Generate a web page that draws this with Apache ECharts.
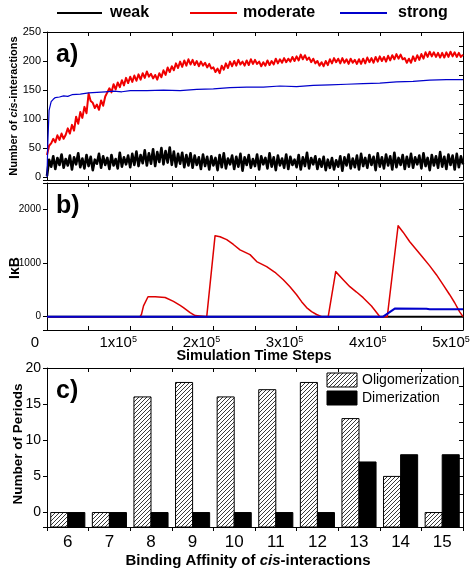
<!DOCTYPE html>
<html><head><meta charset="utf-8">
<script src="https://cdn.jsdelivr.net/npm/echarts@6/dist/echarts.min.js"></script>
<style>html,body{margin:0;padding:0;background:#fff}#c{width:475px;height:570px}</style>
</head><body><div id="c"></div>
<script>
const FONT = '"Liberation Sans", Arial, sans-serif';

// Panel a: number of cis-interactions, sampled every 2500 simulation steps
const timeStep = 2500;
const weak = [
 2,30,18,36,14,33,21,39,16,31,
 20,37,13,34,22,41,17,32,15,38,
 19,35,12,30,23,40,16,36,21,33,
 14,38,20,31,15,42,18,34,22,37,
 17,40,21,44,19,38,24,46,20,41,
 23,48,19,43,26,50,22,45,25,51,
 21,44,18,40,23,42,17,38,20,41,
 16,37,21,34,14,39,19,35,13,36,
 20,33,12,38,17,41,15,32,22,37,
 14,35,18,40,11,34,21,38,16,31,
 19,39,13,36,22,33,15,41,18,34,
 12,37,20,32,16,39,14,35,21,30,
 17,38,13,34,19,42,15,33,22,36,
 14,31,18,35,12,30,16,33,13,29,
 18,36,11,34,20,39,15,32,17,37,
 13,40,19,33,16,38,21,35,12,41,
 18,34,15,39,20,36,13,42,17,33,
 21,38,14,35,18,40,16,34,22,37,
 15,41,19,33,12,38,20,36,16,43,
 18,35,14,39,21,37,13,40,17,36,22
];
const moderate = [
 38,54,58,66,60,72,64,75,66,73,
 84,75,90,80,104,92,112,102,121,110,
 144,131,128,119,125,116,132,123,139,146,
 153,146,160,151,163,155,167,158,171,162,
 173,164,175,166,177,168,179,171,182,173,
 178,170,176,168,179,172,184,176,189,181,
 191,184,196,188,199,190,201,192,203,194,
 202,193,200,191,199,192,197,189,195,187,
 189,181,187,179,192,185,196,188,199,191,
 200,192,202,194,199,192,201,193,203,195,
 202,195,199,191,198,192,201,193,200,194,
 204,196,203,197,205,198,204,199,207,200,
 208,201,211,203,210,202,206,198,204,196,
 200,192,198,191,200,193,203,196,205,198,
 204,196,205,197,203,195,204,197,202,195,
 203,195,204,196,206,198,205,197,207,199,
 208,200,207,199,209,201,210,203,212,204,
 211,203,205,197,204,197,208,200,210,202,
 212,204,215,207,216,208,215,207,214,206,
 214,206,215,207,216,208,215,207,214,207,211
];
const strong = [
 [0,0],[1000,60],[2500,115],[5000,130],[7500,134],[10000,137],[15000,138],[20000,140],
 [25000,139],[30000,142],[40000,143],[50000,145],[60000,146],[70000,147],[80000,148],
 [90000,147],[100000,149],[120000,149],[140000,150],[160000,149],[180000,151],[200000,152],
 [220000,154],[240000,155],[260000,155],[280000,157],[300000,156],[320000,158],[340000,159],
 [360000,160],[380000,161],[400000,162],[420000,164],[440000,165],[460000,167],[480000,168],[500000,168]
];

// Panel b: IkB
const ikbWeak = [[0,0],[500000,0]];
const ikbModerate = [
 [0,0],[111800,0],[113500,40],[116000,200],[121400,372],[130000,370],[142000,358],[152000,285],
 [160000,210],[164000,168],[172000,75],[178000,20],[180000,0],
 [192000,0],[202000,1515],[208000,1495],[216000,1440],[224000,1350],[232000,1250],[244000,1160],
 [252000,1030],[264000,935],[274000,830],[284000,690],[292000,560],[300000,410],[306000,280],
 [312000,170],[318000,95],[324000,40],[330000,0],
 [338000,0],[347000,842],[356000,690],[364000,560],[372000,460],[380000,355],[390000,200],[398000,40],[400000,0],
 [409000,0],[422000,1700],[428000,1580],[436000,1400],[444000,1250],[452000,1100],[460000,950],
 [468000,785],[476000,600],[484000,410],[490000,260],[496000,90],[500000,0]
];
const ikbStrong = [[0,0],[404000,0],[418000,150],[456000,148],[460000,138],[500000,138]];

// Panel c
const affinity = ['6','7','8','9','10','11','12','13','14','15'];
const oligomerization = [0,0,16,18,16,17,18,13,5,0];
const dimerization = [0,0,0,0,0,0,0,7,8,8];

function hatchCanvas(){
  const c = document.createElement('canvas'); c.width = 4; c.height = 4;
  const g = c.getContext('2d');
  g.fillStyle = '#fff'; g.fillRect(0,0,4,4);
  g.strokeStyle = '#3a3a3a'; g.lineWidth = 1;
  g.beginPath();
  g.moveTo(0,4); g.lineTo(4,0);
  g.moveTo(-1,1); g.lineTo(1,-1);
  g.moveTo(3,5); g.lineTo(5,3);
  g.stroke();
  return c;
}
const HATCH = {image: hatchCanvas(), repeat: 'repeat'};

const AX = {lineStyle:{color:'#000', width:1}};
function valX(grid, pos, labels){
  const o = {type:'value', gridIndex:grid, position:pos, min:0, max:500000, interval:50000,
    axisLine:{show:true, onZero:false, ...AX}, splitLine:{show:false},
    axisTick:{show:true, inside:true, length:4, ...AX}, axisLabel:{show:false}};
  if (labels) {
    o.axisLabel = {show:true, margin:5, padding:[0,24,0,0],
      formatter: v => v === 0 ? '{n|0}' : (v % 100000 === 0 ? '{n|' + (v/100000) + 'x10}{s|5}' : ''),
      rich:{ n:{fontSize:15, fontFamily:FONT, color:'#000'},
             s:{fontSize:9, fontFamily:FONT, color:'#000', verticalAlign:'top', padding:[0,0,7,0]} }};
  }
  return o;
}
function valY(grid, pos, min, max, step, labelStep, fs, inside){
  const o = {type:'value', gridIndex:grid, position:pos, min:min, max:max, minInterval:step, maxInterval:step,
    axisLine:{show:true, onZero:false, ...AX}, splitLine:{show:false},
    axisTick:{show:true, inside:inside, length:4, ...AX}, axisLabel:{show:false}};
  if (labelStep) {
    o.axisLabel = {show:true, margin:6, fontSize:fs, fontFamily:FONT, color:'#000',
      formatter: v => (Math.abs(v % labelStep) < 1e-9 ? String(v) : '')};
  }
  return o;
}
function catX(grid, pos, labels){
  return {type:'category', gridIndex:grid, position:pos, data:affinity, boundaryGap:true,
    axisLine:{show:true, onZero:false, ...AX}, splitLine:{show:false},
    axisTick:{show:true, inside:!labels, length:4, ...AX},
    axisLabel:{show:!!labels, margin:7, fontSize:17, fontFamily:FONT, color:'#000'}};
}

function barRender(values, side, fill){
  return function(params, api){
    const idx = api.value(0), val = api.value(1);
    const band = api.size([1,0])[0];
    const w = band * 0.41;
    const top = api.coord([idx, val]);
    const base = api.coord([idx, -2]);
    const x = side < 0 ? top[0] - w : top[0];
    return {type:'rect', shape:{x:x, y:top[1], width:w, height:base[1]-top[1]},
      style:{fill:fill, stroke:'#000', lineWidth:1}};
  };
}

const chart = echarts.init(document.getElementById('c'), null, {renderer:'canvas'});
const line = (name, data, color, w, xi, yi) => ({name, type:'line', data, xAxisIndex:xi, yAxisIndex:yi,
  showSymbol:false, symbol:'none', sampling:null, animation:false,
  lineStyle:{color, width:w, join:'round'}, itemStyle:{color}});

chart.setOption({
  animation:false,
  backgroundColor:'#fff',
  grid:[
    {left:47, right:12, top:32, height:148, outerBoundsMode:'none'},
    {left:47, right:12, top:183, height:147, outerBoundsMode:'none'},
    {left:47, right:12, top:368, height:159, outerBoundsMode:'none'}
  ],
  xAxis:[
    valX(0,'bottom',false), valX(0,'top',false),
    valX(1,'bottom',true), valX(1,'top',false),
    catX(2,'bottom',true), catX(2,'top',false)
  ],
  yAxis:[
    valY(0,'left',-5,250,50,50,11,false), valY(0,'right',-5,250,25,null,0,true),
    valY(1,'left',-250,2500,1000,1000,10,false), valY(1,'right',-250,2500,500,null,0,true),
    valY(2,'left',-2,20,5,5,14,false), valY(2,'right',-2,20,2.5,null,0,true)
  ],
  series:[
    line('weak', weak.map((v,i)=>[i*timeStep, v]), '#000', 2.6, 0, 0),
    line('moderate', moderate.map((v,i)=>[i*timeStep, v]), '#f00000', 2, 0, 0),
    line('strong', strong, '#0000cc', 1.2, 0, 0),
    line('weak', ikbWeak, '#000', 2, 2, 2),
    line('moderate', ikbModerate, '#dd0000', 1.5, 2, 2),
    line('strong', ikbStrong, '#0000cc', 2, 2, 2),
    {name:'Oligomerization', type:'custom', xAxisIndex:4, yAxisIndex:4,
      data: oligomerization.map((v,i)=>[i,v]), renderItem: barRender(oligomerization,-1,HATCH)},
    {name:'Dimerization', type:'custom', xAxisIndex:4, yAxisIndex:4,
      data: dimerization.map((v,i)=>[i,v]), renderItem: barRender(dimerization,1,'#000')}
  ],
  graphic:[
    {type:'line', shape:{x1:57,y1:13,x2:102,y2:13}, style:{stroke:'#000', lineWidth:2}},
    {type:'text', x:110, y:13, style:{text:'weak', font:'bold 16px '+FONT, fill:'#000', verticalAlign:'middle'}},
    {type:'line', shape:{x1:190,y1:13,x2:237,y2:13}, style:{stroke:'#ee0000', lineWidth:2}},
    {type:'text', x:243, y:13, style:{text:'moderate', font:'bold 16px '+FONT, fill:'#000', verticalAlign:'middle'}},
    {type:'line', shape:{x1:340,y1:13,x2:387,y2:13}, style:{stroke:'#0000cc', lineWidth:2}},
    {type:'text', x:398, y:13, style:{text:'strong', font:'bold 16px '+FONT, fill:'#000', verticalAlign:'middle'}},

    {type:'text', x:14, y:106, rotation:Math.PI/2, style:{text:'{b|Number of }{i|cis}{b|-interactions}',
      rich:{b:{font:'bold 11px '+FONT, fill:'#000'}, i:{font:'italic bold 11px '+FONT, fill:'#000'}},
      align:'center', verticalAlign:'middle'}},
    {type:'text', x:15, y:268, rotation:Math.PI/2, style:{text:'IκB', font:'bold 14px '+FONT, fill:'#000', align:'center', verticalAlign:'middle'}},
    {type:'text', x:18, y:444, rotation:Math.PI/2, style:{text:'Number of Periods', font:'bold 13.5px '+FONT, fill:'#000', align:'center', verticalAlign:'middle'}},

    {type:'text', x:56, y:55, style:{text:'a)', font:'bold 25px '+FONT, fill:'#000', verticalAlign:'middle'}},
    {type:'text', x:56, y:206, style:{text:'b)', font:'bold 25px '+FONT, fill:'#000', verticalAlign:'middle'}},
    {type:'text', x:56, y:391, style:{text:'c)', font:'bold 25px '+FONT, fill:'#000', verticalAlign:'middle'}},

    {type:'text', x:254, y:356, style:{text:'Simulation Time Steps', font:'bold 14.5px '+FONT, fill:'#000', align:'center', verticalAlign:'middle'}},
    {type:'text', x:248, y:561, style:{text:'{b|Binding Affinity of }{i|cis}{b|-interactions}',
      rich:{b:{font:'bold 15px '+FONT, fill:'#000'}, i:{font:'italic bold 15px '+FONT, fill:'#000'}},
      align:'center', verticalAlign:'middle'}},

    {type:'rect', shape:{x:327,y:373,width:30,height:14}, style:{fill:HATCH, stroke:'#000', lineWidth:1}},
    {type:'text', x:362, y:380, style:{text:'Oligomerization', font:'14px '+FONT, fill:'#000', verticalAlign:'middle'}},
    {type:'rect', shape:{x:327,y:391,width:30,height:14}, style:{fill:'#000', stroke:'#000', lineWidth:1}},
    {type:'text', x:362, y:398, style:{text:'Dimerization', font:'14px '+FONT, fill:'#000', verticalAlign:'middle'}}
  ]
});
</script></body></html>
